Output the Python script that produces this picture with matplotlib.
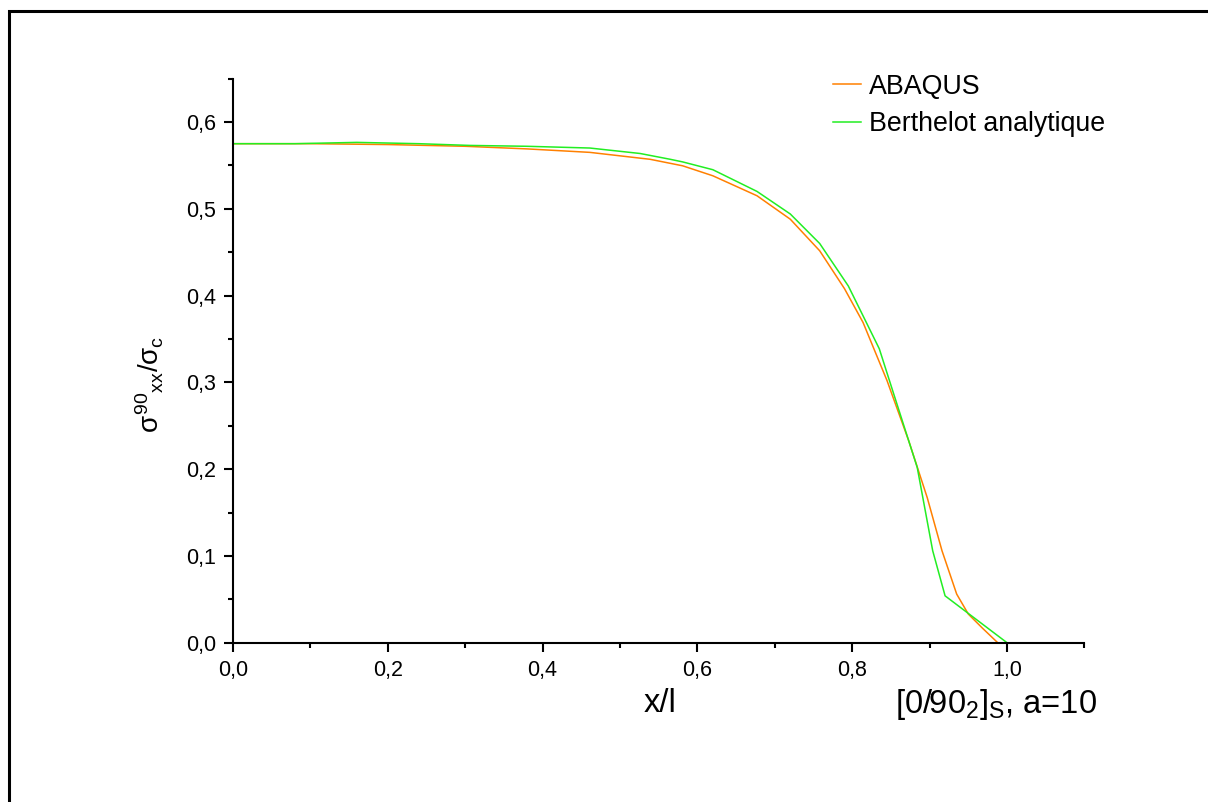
import matplotlib
matplotlib.use("Agg")
import matplotlib.pyplot as plt
from matplotlib.ticker import MultipleLocator, FuncFormatter
from matplotlib.patches import Rectangle

plt.rcParams['font.family'] = ['Liberation Sans', 'DejaVu Sans']
plt.rcParams['mathtext.fontset'] = 'custom'
plt.rcParams['mathtext.rm'] = 'Liberation Sans'
plt.rcParams['mathtext.it'] = 'Liberation Sans'
plt.rcParams['mathtext.bf'] = 'Liberation Sans:bold'

# ABAQUS results
abaqus_x = [0.0, 0.1, 0.2, 0.3, 0.38, 0.461, 0.539, 0.581, 0.620, 0.677, 0.720,
            0.758, 0.79, 0.814, 0.845, 0.873, 0.897, 0.916, 0.935, 0.950, 0.968, 0.988]
abaqus_y = [0.575, 0.575, 0.574, 0.572, 0.569, 0.565, 0.557, 0.5495, 0.538, 0.515,
            0.488, 0.4516, 0.408, 0.369, 0.302, 0.2327, 0.167, 0.106, 0.056, 0.033,
            0.017, 0.0]

# Berthelot analytical solution
berth_x = [0.0, 0.08, 0.16, 0.24, 0.306, 0.38, 0.461, 0.526, 0.565, 0.581, 0.620,
           0.677, 0.720, 0.758, 0.795, 0.814, 0.835, 0.851, 0.873, 0.884, 0.904,
           0.920, 1.0]
berth_y = [0.575, 0.575, 0.5765, 0.575, 0.573, 0.572, 0.570, 0.5637, 0.557, 0.554,
           0.545, 0.520, 0.494, 0.460, 0.411, 0.3767, 0.3387, 0.294, 0.2327, 0.202,
           0.106, 0.054, 0.0]

W, H = 1208, 802
fig = plt.figure(figsize=(W/100, H/100), dpi=100)
ax_l, ax_r, ax_b, ax_t = 233, 1084.4, 642.7, 78.6
ax = fig.add_axes([ax_l/W, 1 - ax_b/H, (ax_r-ax_l)/W, (ax_b-ax_t)/H])

ax.plot(abaqus_x, abaqus_y, color='#FF8000', lw=1.1, label='ABAQUS')
ax.plot(berth_x, berth_y, color='#22EE22', lw=1.1, label='Berthelot analytique')

ax.set_xlim(0, 1.1)
ax.set_ylim(0, 0.65)
for s in ['top', 'right']:
    ax.spines[s].set_visible(False)
for s in ['left', 'bottom']:
    ax.spines[s].set_linewidth(1.5)

ax.xaxis.set_major_locator(MultipleLocator(0.2))
ax.xaxis.set_minor_locator(MultipleLocator(0.1))
ax.yaxis.set_major_locator(MultipleLocator(0.1))
ax.yaxis.set_minor_locator(MultipleLocator(0.05))
fmt = FuncFormatter(lambda v, p: f"{v:.1f}".replace('.', ','))
ax.xaxis.set_major_formatter(fmt)
ax.yaxis.set_major_formatter(fmt)
ax.tick_params(which='major', direction='out', length=6.8, width=1.5, labelsize=15.5)
ax.tick_params(axis='x', which='major', pad=6)
ax.tick_params(axis='y', which='major', pad=5.5)
ax.tick_params(which='minor', direction='out', length=3.6, width=1.5)

ax.legend(loc='upper left', bbox_to_anchor=((822-ax_l)/(ax_r-ax_l), (ax_b-63)/(ax_b-ax_t)),
          frameon=False, fontsize=19.3, handlelength=1.05, handletextpad=0.3,
          labelspacing=0.42, borderaxespad=0)

fig.text(660/W, 1 - 704/H, 'x/l', fontsize=23.5, ha='center', va='center')
fig.text(150/W, 1 - 384/H, r'$\sigma^{90}{}_{xx}/\sigma_c$', fontsize=20,
         rotation=90, ha='center', va='center')
fig.text(895/W, 1 - 705/H, r'$[0/90_2]_S$, a=10', fontsize=23.5,
         ha='left', va='center')

fig.add_artist(Rectangle((8.5/W, -0.5), 2.0, 0.5 + (1 - 10.5/H),
                         transform=fig.transFigure, fill=False, lw=2.2,
                         edgecolor='black', clip_on=False))

fig.savefig('out.png', dpi=100)
